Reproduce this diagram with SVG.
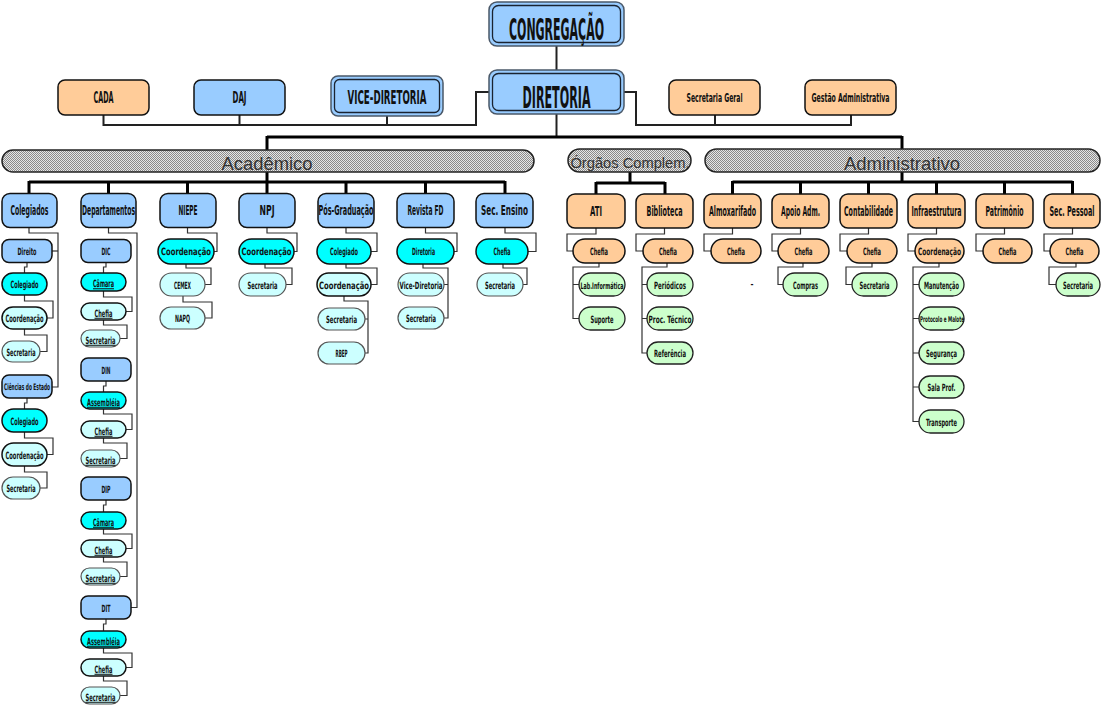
<svg xmlns="http://www.w3.org/2000/svg" width="1102" height="724" viewBox="0 0 1102 724">
<defs>
<pattern id="hatch" width="2" height="2" patternUnits="userSpaceOnUse">
<rect width="2" height="2" fill="#e6e6e6"/>
<rect width="1" height="1" fill="#8a8a8a"/>
<rect x="1" y="1" width="1" height="1" fill="#8a8a8a"/>
</pattern>
<style>
.b{fill:#99CCFF;stroke:#111;stroke-width:1.5}
.c{fill:#00FFFF;stroke:#111;stroke-width:1.5}
.l{fill:#CCFFFF;stroke:#111;stroke-width:1.5}
.g2{fill:#CCFFFF;stroke:#555;stroke-width:1.2}
.o{fill:#FFCC99;stroke:#111;stroke-width:1.5}
.g{fill:#CCFFCC;stroke:#222;stroke-width:1.3}
.bar{fill:url(#hatch);stroke:#222;stroke-width:1.5}
.dbo{fill:#99CCFF;stroke:#4a5868;stroke-width:1.5}
.dbi{fill:none;stroke:#1a2330;stroke-width:1.3}
text{font-family:"DejaVu Sans Condensed","Liberation Sans",Arial,sans-serif;font-weight:bold;text-anchor:middle;fill:#111}
.t{font-size:14px}
.s{font-size:10px}
.u{text-decoration:underline}
.bt{font-family:"Liberation Sans",Arial,sans-serif;font-weight:normal;fill:#333}
.thin{fill:none;stroke:#333;stroke-width:1.2}
.med{fill:none;stroke:#222;stroke-width:2}
.thick{fill:none;stroke:#000;stroke-width:3}
</style>
</defs>
<rect width="1102" height="724" fill="#fff"/>

<g id="connectors">
<path class="med" d="M556.5,46 V70"/>
<path class="med" d="M489,92 H476 V125 H103.5 V115"/>
<path class="med" d="M239.5,115 V125"/>
<path class="med" d="M387,116 V125"/>
<path class="med" d="M624,92 H636 V125 H851 V115"/>
<path class="med" d="M715,115 V125"/>
<path class="med" d="M556.5,114 V137"/>
<path class="thick" d="M267,137 H902"/>
<path class="thick" d="M267,136 V150"/>
<path class="thick" d="M902,136 V150"/>
<path class="thick" d="M267,172 V182"/>
<path class="thick" d="M29,182 H505"/>
<path class="thick" d="M29,181 V194 M108.5,181 V194 M187.5,181 V194 M267,181 V194 M346,181 V194 M425.5,181 V194 M505,181 V194"/>
<path class="thick" d="M630,172 V183"/>
<path class="thick" d="M596,183 H665"/>
<path class="thick" d="M596,182 V194 M665,182 V194"/>
<path class="thick" d="M902,172 V182"/>
<path class="thick" d="M732.5,182 H1072.5"/>
<path class="thick" d="M732.5,181 V194 M800.5,181 V194 M868.5,181 V194 M936.5,181 V194 M1004.5,181 V194 M1072.5,181 V194"/>
<path class="thin" d="M29,227 V233 H58 V387 H52"/>
<path class="thin" d="M52,251 H58"/>
<path class="thin" d="M27,262.5 V267 H24.5 V273"/>
<path class="thin" d="M24.5,295 V301 H53 V318 H47"/>
<path class="thin" d="M24.5,329 V335 H47 V351.5 H40"/>
<path class="thin" d="M27,398 V403 H24.5 V409"/>
<path class="thin" d="M24.5,432 V438 H53 V454.5 H47"/>
<path class="thin" d="M24.5,466 V472 H47 V488 H40"/>
<path class="thin" d="M108.5,227 V233 H137 V607.5 H131"/>
<path class="thin" d="M106,262.5 V267 H103.5 V273"/>
<path class="thin" d="M103.5,291 V297 H132 V311.5 H126"/>
<path class="thin" d="M103.5,320 V325 H127 V338.5 H120"/>
<path class="thin" d="M106,381 V386 H103.5 V392"/>
<path class="thin" d="M103.5,409 V414 H132 V429.5 H126"/>
<path class="thin" d="M103.5,438 V443 H127 V458.5 H120"/>
<path class="thin" d="M106,500 V505 H103.5 V512"/>
<path class="thin" d="M103.5,529 V534 H132 V548.5 H126"/>
<path class="thin" d="M103.5,557 V562 H127 V576.5 H120"/>
<path class="thin" d="M106,619 V624 H103.5 V631"/>
<path class="thin" d="M103.5,648 V653 H132 V667.5 H126"/>
<path class="thin" d="M103.5,676 V681 H127 V695.5 H120"/>
<path class="thin" d="M187.5,227 V233 H217 V251.5 H214"/>
<path class="thin" d="M186,264 V268 H211 V284.5 H205"/>
<path class="thin" d="M183,296 V302 H212 V318 H205"/>
<path class="thin" d="M267,227 V233 H297 V251.5 H294"/>
<path class="thin" d="M265,264 V268 H292 V284.5 H286"/>
<path class="thin" d="M346,227 V233 H377 V251.5 H371"/>
<path class="thin" d="M346,264 V268 H377 V284.5 H371"/>
<path class="thin" d="M344,296 V301 H368 V353 H365 M365,319 H368"/>
<path class="thin" d="M425.5,227 V233 H457 V251.5 H454"/>
<path class="thin" d="M423,264 V268 H448 V318 H444 M444,284.5 H448"/>
<path class="thin" d="M505,227 V233 H536 V251.5 H528"/>
<path class="thin" d="M503,264 V268 H527 V284.5 H523"/>
<path class="thin" d="M596,228 V234 H567 V251 H573"/>
<path class="thin" d="M599,263 V267 H573 V318.5 H579 M573,284.5 H579"/>
<path class="thin" d="M664.5,228 V234 H636 V251 H643"/>
<path class="thin" d="M667,263 V267 H642 V353 H647 M642,284.5 H647 M642,318.5 H647"/>
<path class="thin" d="M732.5,228 V234 H704 V251 H711"/>
<path class="thin" d="M800.5,228 V234 H772 V251 H778"/>
<path class="thin" d="M803,263 V267 H778 V284.5 H783"/>
<path class="thin" d="M868.5,228 V234 H840 V251 H847"/>
<path class="thin" d="M872,263 V267 H846 V284.5 H852"/>
<path class="thin" d="M936.5,228 V234 H908 V251 H915"/>
<path class="thin" d="M939,263 V267 H913 V421.5 H919 M913,284.5 H919 M913,318.5 H919 M913,353 H919 M913,387 H919"/>
<path class="thin" d="M1004.5,228 V234 H976 V251 H983"/>
<path class="thin" d="M1072.5,228 V234 H1044 V251 H1050"/>
<path class="thin" d="M1076,263 V267 H1049 V284.5 H1056"/>
</g>

<g id="congregacao"><rect class="dbo" x="489" y="2" width="135" height="44" rx="8"/><rect class="dbi" x="492.5" y="5.5" width="128" height="37" rx="6"/><text transform="translate(556.5,40) scale(.5,1)" font-size="30" textLength="190" lengthAdjust="spacingAndGlyphs">CONGREGAÇÃO</text></g>
<g id="diretoria"><rect class="dbo" x="489" y="70" width="135" height="44" rx="8"/><rect class="dbi" x="492.5" y="73.5" width="128" height="37" rx="6"/><text transform="translate(556.5,108) scale(.5,1)" font-size="30" textLength="136" lengthAdjust="spacingAndGlyphs">DIRETORIA</text></g>
<g id="vice-diretoria"><rect class="dbo" x="331" y="76" width="112" height="40" rx="7"/><rect class="dbi" x="334.5" y="79.5" width="105" height="33" rx="5"/><text transform="translate(387,104) scale(.5,1)" font-size="19" textLength="158" lengthAdjust="spacingAndGlyphs">VICE-DIRETORIA</text></g>
<g id="cada"><rect class="o" x="58" y="80" width="91" height="35" rx="7"/><text transform="translate(103.5,103) scale(.5,1)" font-size="15" textLength="40" lengthAdjust="spacingAndGlyphs">CADA</text></g>
<g id="daj"><rect class="b" x="194" y="80" width="91" height="35" rx="7"/><text transform="translate(239.5,103) scale(.5,1)" font-size="15" textLength="28" lengthAdjust="spacingAndGlyphs">DAJ</text></g>
<g id="secretaria-geral"><rect class="o" x="669" y="80" width="91" height="35" rx="7"/><text transform="translate(714.5,102) scale(.5,1)" font-size="12" textLength="112" lengthAdjust="spacingAndGlyphs">Secretaria Geral</text></g>
<g id="gestao-administrativa"><rect class="o" x="805" y="80" width="91" height="35" rx="7"/><text transform="translate(850.5,102) scale(.5,1)" font-size="12" textLength="156" lengthAdjust="spacingAndGlyphs">Gestão Administrativa</text></g>

<g id="academico"><rect class="bar" x="2" y="150" width="532" height="22" rx="11"/><text class="bt" x="267" y="170" font-size="18.4">Acadêmico</text></g>
<g id="orgaos-complem"><rect class="bar" x="568" y="149" width="123" height="23" rx="11.5"/><text class="bt" x="630" y="168" font-size="14.7">Órgãos Complem.</text></g>
<g id="administrativo"><rect class="bar" x="705" y="149" width="395" height="23" rx="11.5"/><text class="bt" x="902" y="170" font-size="18.5">Administrativo</text></g>

<g id="colegiados"><rect class="b" x="2" y="193.5" width="55" height="34" rx="8"/><text class="t" transform="translate(29.5,215) scale(.5,1)" textLength="76" lengthAdjust="spacingAndGlyphs">Colegiados</text></g>
<g id="departamentos"><rect class="b" x="81" y="193.5" width="55" height="34" rx="8"/><text class="t" transform="translate(108.5,215) scale(.5,1)" textLength="106" lengthAdjust="spacingAndGlyphs">Departamentos</text></g>
<g id="niepe"><rect class="b" x="160" y="193.5" width="56" height="34" rx="8"/><text class="t" transform="translate(188,215) scale(.5,1)" textLength="38" lengthAdjust="spacingAndGlyphs">NIEPE</text></g>
<g id="npj"><rect class="b" x="239" y="193.5" width="56" height="34" rx="8"/><text class="t" transform="translate(267,215) scale(.5,1)" textLength="30" lengthAdjust="spacingAndGlyphs">NPJ</text></g>
<g id="pos-graduacao"><rect class="b" x="318" y="193.5" width="56" height="34" rx="8"/><text class="t" transform="translate(346,215) scale(.5,1)" textLength="110" lengthAdjust="spacingAndGlyphs">Pós-Graduação</text></g>
<g id="revista-fd"><rect class="b" x="397" y="193.5" width="57" height="34" rx="8"/><text class="t" transform="translate(425.5,215) scale(.5,1)" textLength="72" lengthAdjust="spacingAndGlyphs">Revista FD</text></g>
<g id="sec-ensino"><rect class="b" x="476" y="193.5" width="57" height="34" rx="8"/><text class="t" transform="translate(504.5,215) scale(.5,1)" textLength="94" lengthAdjust="spacingAndGlyphs">Sec. Ensino</text></g>

<g id="direito"><rect class="b" x="2" y="239.5" width="50" height="23" rx="7"/><text class="s" transform="translate(27,255) scale(.5,1)" textLength="38" lengthAdjust="spacingAndGlyphs">Direito</text></g>
<g id="direito-colegiado"><rect class="c" x="2" y="273" width="45" height="22" rx="11"/><text class="s" transform="translate(24.5,288) scale(.5,1)" textLength="56" lengthAdjust="spacingAndGlyphs">Colegiado</text></g>
<g id="direito-coordenacao"><rect class="l" x="2" y="307" width="45" height="22" rx="11"/><text class="s" transform="translate(24.5,322) scale(.5,1)" textLength="76" lengthAdjust="spacingAndGlyphs">Coordenação</text></g>
<g id="direito-secretaria"><rect class="g2" x="2" y="341" width="38" height="21" rx="10.5"/><text class="s" transform="translate(21,355.5) scale(.5,1)" textLength="58" lengthAdjust="spacingAndGlyphs">Secretaria</text></g>
<g id="ciencias-do-estado"><rect class="b" x="2" y="375" width="50" height="23" rx="7"/><text transform="translate(27,390) scale(.5,1)" font-size="9" textLength="92" lengthAdjust="spacingAndGlyphs">Ciências do Estado</text></g>
<g id="ce-colegiado"><rect class="c" x="2" y="409" width="45" height="23" rx="11.5"/><text class="s" transform="translate(24.5,424.5) scale(.5,1)" textLength="56" lengthAdjust="spacingAndGlyphs">Colegiado</text></g>
<g id="ce-coordenacao"><rect class="l" x="2" y="443" width="45" height="23" rx="11.5"/><text class="s" transform="translate(24.5,458.5) scale(.5,1)" textLength="76" lengthAdjust="spacingAndGlyphs">Coordenação</text></g>
<g id="ce-secretaria"><rect class="g2" x="2" y="477" width="38" height="22" rx="11"/><text class="s" transform="translate(21,492) scale(.5,1)" textLength="58" lengthAdjust="spacingAndGlyphs">Secretaria</text></g>

<g id="dic"><rect class="b" x="81" y="239.5" width="50" height="23" rx="7"/><text class="s" transform="translate(106,255) scale(.5,1)" textLength="18" lengthAdjust="spacingAndGlyphs">DIC</text></g>
<g id="dic-camara"><rect class="c" x="81" y="273" width="45" height="18" rx="9"/><text class="s u" transform="translate(103.5,287) scale(.5,1)" textLength="42" lengthAdjust="spacingAndGlyphs">Câmara</text></g>
<g id="dic-chefia"><rect class="l" x="81" y="303" width="45" height="17" rx="8.5"/><text class="s u" transform="translate(103.5,316.5) scale(.5,1)" textLength="36" lengthAdjust="spacingAndGlyphs">Chefia</text></g>
<g id="dic-secretaria"><rect class="g2" x="81" y="330" width="39" height="17" rx="8.5"/><text class="s u" transform="translate(100.5,343.5) scale(.5,1)" textLength="60" lengthAdjust="spacingAndGlyphs">Secretaria</text></g>
<g id="din"><rect class="b" x="81" y="358" width="50" height="23" rx="7"/><text class="s" transform="translate(106,373.5) scale(.5,1)" textLength="18" lengthAdjust="spacingAndGlyphs">DIN</text></g>
<g id="din-assembleia"><rect class="c" x="81" y="392" width="45" height="17" rx="8.5"/><text class="s u" transform="translate(103.5,405.5) scale(.5,1)" textLength="66" lengthAdjust="spacingAndGlyphs">Assembléia</text></g>
<g id="din-chefia"><rect class="l" x="81" y="421" width="45" height="17" rx="8.5"/><text class="s u" transform="translate(103.5,434.5) scale(.5,1)" textLength="36" lengthAdjust="spacingAndGlyphs">Chefia</text></g>
<g id="din-secretaria"><rect class="g2" x="81" y="450" width="39" height="17" rx="8.5"/><text class="s u" transform="translate(100.5,463.5) scale(.5,1)" textLength="60" lengthAdjust="spacingAndGlyphs">Secretaria</text></g>
<g id="dip"><rect class="b" x="81" y="477" width="50" height="23" rx="7"/><text class="s" transform="translate(106,492.5) scale(.5,1)" textLength="18" lengthAdjust="spacingAndGlyphs">DIP</text></g>
<g id="dip-camara"><rect class="c" x="81" y="512" width="45" height="17" rx="8.5"/><text class="s u" transform="translate(103.5,525.5) scale(.5,1)" textLength="42" lengthAdjust="spacingAndGlyphs">Câmara</text></g>
<g id="dip-chefia"><rect class="l" x="81" y="540" width="45" height="17" rx="8.5"/><text class="s u" transform="translate(103.5,553.5) scale(.5,1)" textLength="36" lengthAdjust="spacingAndGlyphs">Chefia</text></g>
<g id="dip-secretaria"><rect class="g2" x="81" y="568" width="39" height="17" rx="8.5"/><text class="s u" transform="translate(100.5,581.5) scale(.5,1)" textLength="60" lengthAdjust="spacingAndGlyphs">Secretaria</text></g>
<g id="dit"><rect class="b" x="81" y="596" width="50" height="23" rx="7"/><text class="s" transform="translate(106,611.5) scale(.5,1)" textLength="18" lengthAdjust="spacingAndGlyphs">DIT</text></g>
<g id="dit-assembleia"><rect class="c" x="81" y="631" width="45" height="17" rx="8.5"/><text class="s u" transform="translate(103.5,644.5) scale(.5,1)" textLength="66" lengthAdjust="spacingAndGlyphs">Assembléia</text></g>
<g id="dit-chefia"><rect class="l" x="81" y="659" width="45" height="17" rx="8.5"/><text class="s u" transform="translate(103.5,672.5) scale(.5,1)" textLength="36" lengthAdjust="spacingAndGlyphs">Chefia</text></g>
<g id="dit-secretaria"><rect class="g2" x="81" y="687" width="39" height="17" rx="8.5"/><text class="s u" transform="translate(100.5,700.5) scale(.5,1)" textLength="60" lengthAdjust="spacingAndGlyphs">Secretaria</text></g>

<g id="niepe-coordenacao"><rect class="c" x="158" y="239" width="56" height="25" rx="12.5"/><text class="s" transform="translate(186,255) scale(.5,1)" textLength="100" lengthAdjust="spacingAndGlyphs">Coordenação</text></g>
<g id="cemex"><rect class="g2" x="160" y="273" width="45" height="23" rx="11.5"/><text class="s" transform="translate(182.5,288.5) scale(.5,1)" textLength="34" lengthAdjust="spacingAndGlyphs">CEMEX</text></g>
<g id="napq"><rect class="g2" x="160" y="307" width="45" height="22" rx="11"/><text class="s" transform="translate(182.5,322) scale(.5,1)" textLength="30" lengthAdjust="spacingAndGlyphs">NAPQ</text></g>

<g id="npj-coordenacao"><rect class="c" x="239" y="239" width="55" height="25" rx="12.5"/><text class="s" transform="translate(266.5,255) scale(.5,1)" textLength="100" lengthAdjust="spacingAndGlyphs">Coordenação</text></g>
<g id="npj-secretaria"><rect class="g2" x="239" y="273" width="47" height="23" rx="11.5"/><text class="s" transform="translate(262.5,288.5) scale(.5,1)" textLength="60" lengthAdjust="spacingAndGlyphs">Secretaria</text></g>

<g id="pos-colegiado"><rect class="c" x="317" y="239" width="54" height="25" rx="12.5"/><text class="s" transform="translate(344,255) scale(.5,1)" textLength="56" lengthAdjust="spacingAndGlyphs">Colegiado</text></g>
<g id="pos-coordenacao"><rect class="l" x="317" y="273" width="54" height="23" rx="11.5"/><text class="s" transform="translate(344,288.5) scale(.5,1)" textLength="100" lengthAdjust="spacingAndGlyphs">Coordenação</text></g>
<g id="pos-secretaria"><rect class="g2" x="318" y="308" width="47" height="22" rx="11"/><text class="s" transform="translate(341.5,323) scale(.5,1)" textLength="62" lengthAdjust="spacingAndGlyphs">Secretaria</text></g>
<g id="rbep"><rect class="g2" x="318" y="342" width="47" height="22" rx="11"/><text class="s" transform="translate(341.5,357) scale(.5,1)" textLength="24" lengthAdjust="spacingAndGlyphs">RBEP</text></g>

<g id="revista-diretoria"><rect class="c" x="397" y="239" width="57" height="25" rx="12.5"/><text class="s" transform="translate(423.5,255) scale(.5,1)" textLength="46" lengthAdjust="spacingAndGlyphs">Diretoria</text></g>
<g id="revista-vice-diretoria"><rect class="g2" x="398" y="273" width="46" height="23" rx="11.5"/><text class="s" transform="translate(421,288.5) scale(.5,1)" textLength="86" lengthAdjust="spacingAndGlyphs">Vice-Diretoria</text></g>
<g id="revista-secretaria"><rect class="g2" x="398" y="307" width="46" height="22" rx="11"/><text class="s" transform="translate(421,322) scale(.5,1)" textLength="60" lengthAdjust="spacingAndGlyphs">Secretaria</text></g>

<g id="ensino-chefia"><rect class="c" x="476" y="239" width="52" height="25" rx="12.5"/><text class="s" transform="translate(502,255) scale(.5,1)" textLength="34" lengthAdjust="spacingAndGlyphs">Chefia</text></g>
<g id="ensino-secretaria"><rect class="g2" x="477" y="273" width="46" height="23" rx="11.5"/><text class="s" transform="translate(500,288.5) scale(.5,1)" textLength="60" lengthAdjust="spacingAndGlyphs">Secretaria</text></g>

<g id="ati"><rect class="o" x="567" y="194" width="58" height="34" rx="8"/><text class="t" transform="translate(596,216) scale(.5,1)" textLength="24" lengthAdjust="spacingAndGlyphs">ATI</text></g>
<g id="ati-chefia"><rect class="o" x="573" y="239" width="52" height="24" rx="12"/><text class="s" transform="translate(599,254.5) scale(.5,1)" textLength="36" lengthAdjust="spacingAndGlyphs">Chefia</text></g>
<g id="lab-informatica"><rect class="g" x="579" y="273" width="46" height="23" rx="11.5"/><text transform="translate(602,288.5) scale(.5,1)" font-size="9" textLength="86" lengthAdjust="spacingAndGlyphs">Lab.Informática</text></g>
<g id="suporte"><rect class="g" x="579" y="307" width="46" height="23" rx="11.5"/><text class="s" transform="translate(602,322.5) scale(.5,1)" textLength="46" lengthAdjust="spacingAndGlyphs">Suporte</text></g>
<g id="biblioteca"><rect class="o" x="636" y="194" width="57" height="34" rx="8"/><text class="t" transform="translate(664.5,216) scale(.5,1)" textLength="72" lengthAdjust="spacingAndGlyphs">Biblioteca</text></g>
<g id="biblioteca-chefia"><rect class="o" x="643" y="239" width="50" height="24" rx="12"/><text class="s" transform="translate(668,254.5) scale(.5,1)" textLength="36" lengthAdjust="spacingAndGlyphs">Chefia</text></g>
<g id="periodicos"><rect class="g" x="647" y="273" width="46" height="23" rx="11.5"/><text class="s" transform="translate(670,288.5) scale(.5,1)" textLength="64" lengthAdjust="spacingAndGlyphs">Periódicos</text></g>
<g id="proc-tecnico"><rect class="g" x="647" y="307" width="46" height="23" rx="11.5"/><text class="s" transform="translate(670,322.5) scale(.5,1)" textLength="86" lengthAdjust="spacingAndGlyphs">Proc. Técnico</text></g>
<g id="referencia"><rect class="g" x="647" y="342" width="46" height="22" rx="11"/><text class="s" transform="translate(670,357) scale(.5,1)" textLength="64" lengthAdjust="spacingAndGlyphs">Referência</text></g>

<g id="almoxarifado"><rect class="o" x="704" y="194" width="57" height="34" rx="8"/><text class="t" transform="translate(732.5,216) scale(.5,1)" textLength="94" lengthAdjust="spacingAndGlyphs">Almoxarifado</text></g>
<g id="almox-chefia"><rect class="o" x="711" y="239" width="50" height="24" rx="12"/><text class="s" transform="translate(736,254.5) scale(.5,1)" textLength="36" lengthAdjust="spacingAndGlyphs">Chefia</text></g>
<text x="752" y="287" font-size="8" font-weight="normal" fill="#7088b0">-</text>
<g id="apoio-adm"><rect class="o" x="772" y="194" width="57" height="34" rx="8"/><text class="t" transform="translate(800.5,216) scale(.5,1)" textLength="78" lengthAdjust="spacingAndGlyphs">Apoio Adm.</text></g>
<g id="apoio-chefia"><rect class="o" x="778" y="239" width="51" height="24" rx="12"/><text class="s" transform="translate(803.5,254.5) scale(.5,1)" textLength="36" lengthAdjust="spacingAndGlyphs">Chefia</text></g>
<g id="compras"><rect class="g" x="783" y="273" width="45" height="23" rx="11.5"/><text class="s" transform="translate(805.5,288.5) scale(.5,1)" textLength="50" lengthAdjust="spacingAndGlyphs">Compras</text></g>
<g id="contabilidade"><rect class="o" x="840" y="194" width="57" height="34" rx="8"/><text class="t" transform="translate(868.5,216) scale(.5,1)" textLength="98" lengthAdjust="spacingAndGlyphs">Contabilidade</text></g>
<g id="contab-chefia"><rect class="o" x="847" y="239" width="50" height="24" rx="12"/><text class="s" transform="translate(872,254.5) scale(.5,1)" textLength="36" lengthAdjust="spacingAndGlyphs">Chefia</text></g>
<g id="contab-secretaria"><rect class="g" x="852" y="273" width="45" height="23" rx="11.5"/><text class="s" transform="translate(874.5,288.5) scale(.5,1)" textLength="60" lengthAdjust="spacingAndGlyphs">Secretaria</text></g>
<g id="infraestrutura"><rect class="o" x="908" y="194" width="57" height="34" rx="8"/><text class="t" transform="translate(936.5,216) scale(.5,1)" textLength="100" lengthAdjust="spacingAndGlyphs">Infraestrutura</text></g>
<g id="infra-coordenacao"><rect class="o" x="915" y="239" width="49" height="24" rx="12"/><text class="s" transform="translate(939.5,254.5) scale(.5,1)" textLength="86" lengthAdjust="spacingAndGlyphs">Coordenação</text></g>
<g id="manutencao"><rect class="g" x="919" y="273" width="45" height="23" rx="11.5"/><text class="s" transform="translate(941.5,288.5) scale(.5,1)" textLength="70" lengthAdjust="spacingAndGlyphs">Manutenção</text></g>
<g id="protocolo-malote"><rect class="g" x="919" y="307" width="45" height="23" rx="11.5"/><text transform="translate(942,321.5) scale(.5,1)" font-size="8" textLength="88" lengthAdjust="spacingAndGlyphs">Protocolo e Malote</text></g>
<g id="seguranca"><rect class="g" x="919" y="342" width="45" height="22" rx="11"/><text class="s" transform="translate(941.5,357) scale(.5,1)" textLength="62" lengthAdjust="spacingAndGlyphs">Segurança</text></g>
<g id="sala-prof"><rect class="g" x="919" y="376" width="45" height="22" rx="11"/><text class="s" transform="translate(941.5,391) scale(.5,1)" textLength="56" lengthAdjust="spacingAndGlyphs">Sala Prof.</text></g>
<g id="transporte"><rect class="g" x="919" y="410" width="45" height="23" rx="11.5"/><text class="s" transform="translate(941.5,425.5) scale(.5,1)" textLength="62" lengthAdjust="spacingAndGlyphs">Transporte</text></g>
<g id="patrimonio"><rect class="o" x="976" y="194" width="57" height="34" rx="8"/><text class="t" transform="translate(1004.5,216) scale(.5,1)" textLength="76" lengthAdjust="spacingAndGlyphs">Patrimônio</text></g>
<g id="patrimonio-chefia"><rect class="o" x="983" y="239" width="49" height="24" rx="12"/><text class="s" transform="translate(1007.5,254.5) scale(.5,1)" textLength="36" lengthAdjust="spacingAndGlyphs">Chefia</text></g>
<g id="sec-pessoal"><rect class="o" x="1044" y="194" width="56" height="34" rx="8"/><text class="t" transform="translate(1072,216) scale(.5,1)" textLength="90" lengthAdjust="spacingAndGlyphs">Sec. Pessoal</text></g>
<g id="pessoal-chefia"><rect class="o" x="1050" y="239" width="49" height="24" rx="12"/><text class="s" transform="translate(1074.5,254.5) scale(.5,1)" textLength="36" lengthAdjust="spacingAndGlyphs">Chefia</text></g>
<g id="pessoal-secretaria"><rect class="g" x="1056" y="273" width="44" height="23" rx="11.5"/><text class="s" transform="translate(1078,288.5) scale(.5,1)" textLength="60" lengthAdjust="spacingAndGlyphs">Secretaria</text></g>
</svg>
